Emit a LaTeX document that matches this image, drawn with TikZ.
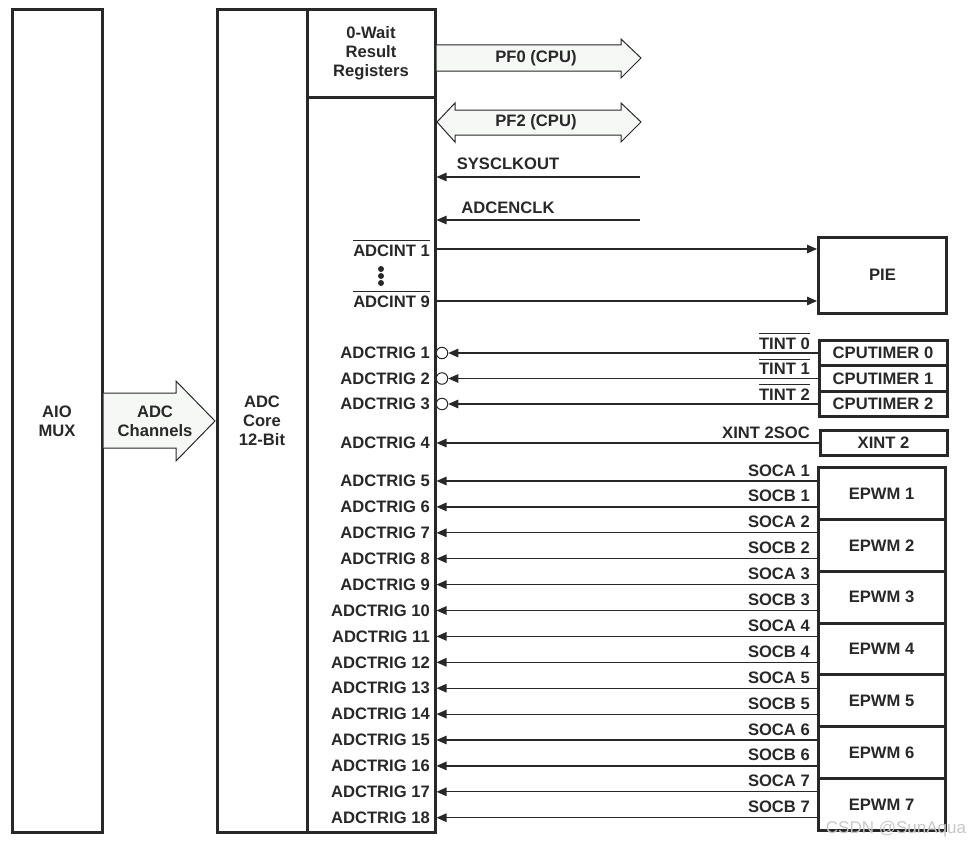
\documentclass[tikz,border=0pt]{standalone}
\usepackage{fontspec}
\setmainfont{Liberation Sans}
\usetikzlibrary{arrows.meta}
\definecolor{ink}{RGB}{40,40,40}
\definecolor{busfill}{RGB}{245,248,245}
\newcommand{\ovl}[1]{\vbox{\hrule height 1.3pt\kern 3pt\hbox{#1}}}
\tikzset{
  blk/.style={draw=ink, line width=3pt, align=center, inner sep=0pt},
  sig/.style={draw=ink, line width=1.2pt},
  sigin/.style={sig, -{Triangle[length=10pt,width=8.5pt]}},
  bus/.style={draw=ink, line width=1pt, fill=busfill},
  lbl/.style={inner sep=0pt, text=ink, align=center},
  inv/.style={circle, draw=ink, line width=1pt, fill=white, minimum size=11.5pt, inner sep=0pt},
}
\begin{document}
\begin{tikzpicture}[x=1pt, y=-1pt, font=\fontsize{16.6}{19}\selectfont\bfseries, text=ink]
\useasboundingbox (0,0) rectangle (971,851);
\node[blk, minimum width=90, minimum height=822] (mux) at (57,421) {AIO\\MUX};
\node[blk, minimum width=90, minimum height=822] (core) at (262,421) {ADC\\Core\\12-Bit};
\node[blk, minimum width=128, minimum height=87] (reg) at (371,53.5) {0-Wait\\Result\\Registers};
\node[blk, minimum width=128, minimum height=735] (ctl) at (371,464.5) {};
\draw[bus] (103.5,393) -- (176,393) -- (176,381) -- (215,421) -- (176,461) -- (176,448) -- (103.5,448);
\node[lbl] (chan) at (155,421) {ADC\\Channels};
\draw[bus] (436.5,45) -- (621,45) -- (621,39) -- (641,58) -- (621,78) -- (621,71) -- (436.5,71);
\node[lbl] (pf0) at (536,58) {PF0 (CPU)};
\draw[bus] (437,122) -- (455,103) -- (455,110) -- (621,110) -- (621,103) -- (641,122) -- (621,142) -- (621,135) -- (455,135) -- (455,142) -- cycle;
\node[lbl] (pf2) at (536,122) {PF2 (CPU)};
\node[lbl] (sysclk) at (508,164) {SYSCLKOUT};
\node[lbl] (adcenclk) at (508,208) {ADCENCLK};
\coordinate (sysclkin) at (640,177);
\coordinate (adcenclkin) at (640,220);
\draw[sigin] (sysclkin) -- (sysclkin -| ctl.east);
\draw[sigin] (adcenclkin) -- (adcenclkin -| ctl.east);
\node[blk, minimum width=128, minimum height=76] (pie) at (882.5,275) {PIE};
\node[lbl, anchor=base east] (int1) at (430,256) {\ovl{ADCINT 1}};
\node[lbl, anchor=base east] (int9) at (430,307) {\ovl{ADCINT 9}};
\coordinate (int1out) at (436,249);
\coordinate (int9out) at (436,301);
\draw[sigin] (int1out -| ctl.east) -- (int1out -| pie.west);
\draw[sigin] (int9out -| ctl.east) -- (int9out -| pie.west);
\foreach \d in {269,276,283} \fill[ink] (381,\d) circle (3pt);
\foreach \k/\y in {1/353,2/378.5,3/404,4/443}
  \node[lbl, anchor=east] (trig\k) at (430,\y) {ADCTRIG \k};
\foreach \k in {5,...,18}
  \node[lbl, anchor=east] (trig\k) at (430,{481+25.9*(\k-5)}) {ADCTRIG \k};
\foreach \n/\y in {0/353,1/378.5,2/404} {
  \node[blk, minimum width=128, minimum height=25.5] (cpu\n) at (883,\y) {CPUTIMER \n};
  \node[lbl, anchor=base east] (tint\n) at (810,{\y-4}) {\ovl{TINT \n}};
  \node[inv] (inv\n) at (442,\y) {};
  \draw[sigin] (cpu\n.west) -- (inv\n.east);
}
\node[blk, minimum width=127, minimum height=25] (xint) at (883.5,443) {XINT 2};
\node[lbl, anchor=base east] (xintsoc) at (810,438) {XINT 2SOC};
\draw[sigin] (xint.west) -- (xint.west -| ctl.east);
\foreach \n in {1,...,7} {
  \pgfmathtruncatemacro\a{2*\n+3}
  \pgfmathtruncatemacro\b{2*\n+4}
  \pgfmathsetmacro\ya{481+51.8*(\n-1)}
  \node[blk, minimum width=127, minimum height=51.8] (epwm\n) at (881.5,{\ya+12.5}) {EPWM \n};
  \node[lbl, anchor=base east] (soca\n) at (810,{\ya-5}) {SOCA \n};
  \node[lbl, anchor=base east] (socb\n) at (810,{\ya+20.9}) {SOCB \n};
  \draw[sigin] (epwm\n.west |- trig\a) -- (trig\a -| ctl.east);
  \draw[sigin] (epwm\n.west |- trig\b) -- (trig\b -| ctl.east);
}
\node[lbl, text=black!22, font=\fontsize{17}{19}\selectfont] (mark) at (896,829) {CSDN @SunAqua};
\end{tikzpicture}
\end{document}
